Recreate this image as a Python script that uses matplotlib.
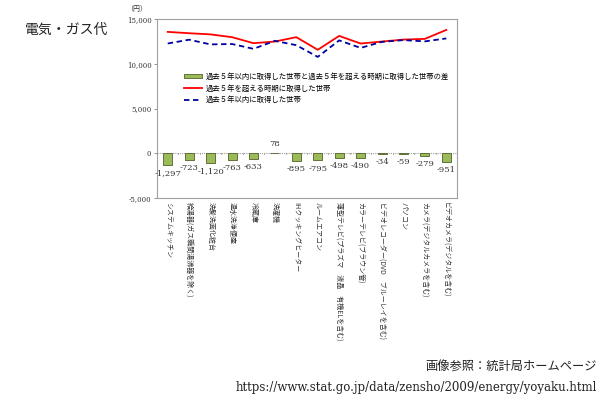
import matplotlib
matplotlib.use("Agg")
import matplotlib.pyplot as plt
from matplotlib.patches import Patch
from matplotlib.lines import Line2D
import numpy as np

plt.rcParams['font.family'] = ['Noto Sans CJK JP', 'DejaVu Sans']

categories = [
    "システムキッチン",
    "給湯器(ガス瞬間湯沸器を除く)",
    "洗髪洗面化粧台",
    "温水洗浄便座",
    "冷蔵庫",
    "洗濯機",
    "IHクッキングヒーター",
    "ルームエアコン",
    "薄型テレビ(プラズマ　液晶　有機ELを含む)",
    "カラーテレビ(ブラウン管)",
    "ビデオレコーダー(DVD　ブルーレイを含む)",
    "パソコン",
    "カメラ(デジタルカメラを含む)",
    "ビデオカメラ(デジタルを含む)",
]
diff = [-1297, -723, -1120, -763, -633, 78, -895, -795, -498, -490, -34, -59, -279, -951]
over5 = [13560, 13410, 13280, 12970, 12300, 12480, 12970, 11560, 13110, 12260, 12480, 12700, 12780, 13780]
within5 = [12263, 12687, 12160, 12207, 11667, 12558, 12075, 10765, 12612, 11770, 12446, 12641, 12501, 12829]
yticks = [-5000, 0, 5000, 10000, 15000]
ytick_labels = ["-5,000", "0", "5,000", "10,000", "15,000"]
legend_labels = [
    "過去５年以内に取得した世帯と過去５年を超える時期に取得した世帯の差",
    "過去５年を超える時期に取得した世帯",
    "過去５年以内に取得した世帯",
]
value_labels = ["-1,297", "-723", "-1,120", "-763", "-633", "78", "-895", "-795",
                "-498", "-490", "-34", "-59", "-279", "-951"]

fig = plt.figure(figsize=(6, 4), dpi=100)
ax = fig.add_axes([0.2617, 0.505, 0.5, 0.4475])

x = np.arange(len(categories))
bar_c = "#9BBB59"
edge_c = "#4F6228"
ax.bar(x, diff, width=0.42, color=bar_c, edgecolor=edge_c, linewidth=0.6, zorder=2)
ax.plot(x, over5, color="#FF0000", lw=1.3, zorder=3)
ax.plot(x, within5, color="#0000A0", lw=1.3, ls=(0, (3, 2)), zorder=3)

ax.axhline(0, color="#A0A0A0", lw=0.8, ls=(0, (1, 1)), zorder=1)
for b in np.arange(-0.5, len(categories), 1.0):
    ax.plot([b, b], [0, -120], color="#A0A0A0", lw=0.6, zorder=1)

for xi, v, lab in zip(x, diff, value_labels):
    if v >= 0:
        ax.annotate(lab, (xi, v), xytext=(0, 3.5), textcoords="offset points",
                    ha="center", va="bottom", fontsize=6, color="#333333",
                    family=["DejaVu Serif"])
    else:
        ax.annotate(lab, (xi, v), xytext=(0, -3), textcoords="offset points",
                    ha="center", va="top", fontsize=6, color="#333333",
                    family=["DejaVu Serif"])

ax.set_xlim(-0.5, len(categories) - 0.5)
ax.set_ylim(-5000, 15000)
ax.set_yticks(yticks)
ax.set_yticklabels(ytick_labels, fontsize=5, color="#333333", family=["DejaVu Serif"])
ax.tick_params(axis='y', length=2, width=0.6, color="#808080", pad=2)
ax.set_xticks(x)
ax.set_xticklabels([])
ax.tick_params(axis='x', length=0)
for s in ax.spines.values():
    s.set_color("#A0A0A0")
    s.set_linewidth(0.8)

for xi, c in zip(x, categories):
    ax.text(xi, -5400, c, rotation=270, ha="center", va="top", fontsize=5,
            color="#333333", rotation_mode="default")

fig.text(0.228, 0.978, "（円）", fontsize=5, color="#333333", ha="center", va="center")

handles = [
    Patch(facecolor=bar_c, edgecolor=edge_c, linewidth=0.6),
    Line2D([0], [0], color="#FF0000", lw=1.3),
    Line2D([0], [0], color="#0000A0", lw=1.3, ls=(0, (3, 2))),
]
ax.legend(handles, legend_labels, loc="upper left", bbox_to_anchor=(0.09, 0.70),
          fontsize=5.3, frameon=False, handlelength=2.5, handleheight=0.5,
          handletextpad=0.4, labelspacing=0.5, borderaxespad=0, borderpad=0)

fig.text(0.042, 0.925, "電気・ガス代", fontsize=10, color="#222222", ha="left", va="center")
fig.text(0.995, 0.083, "画像参照：統計局ホームページ", fontsize=8.8, color="#222222",
         ha="right", va="center")
fig.text(0.995, 0.03, "https://www.stat.go.jp/data/zensho/2009/energy/yoyaku.html",
         fontsize=8.5, color="#222222", ha="right", va="center", family=["DejaVu Serif"])

fig.savefig("out.png", dpi=100)
